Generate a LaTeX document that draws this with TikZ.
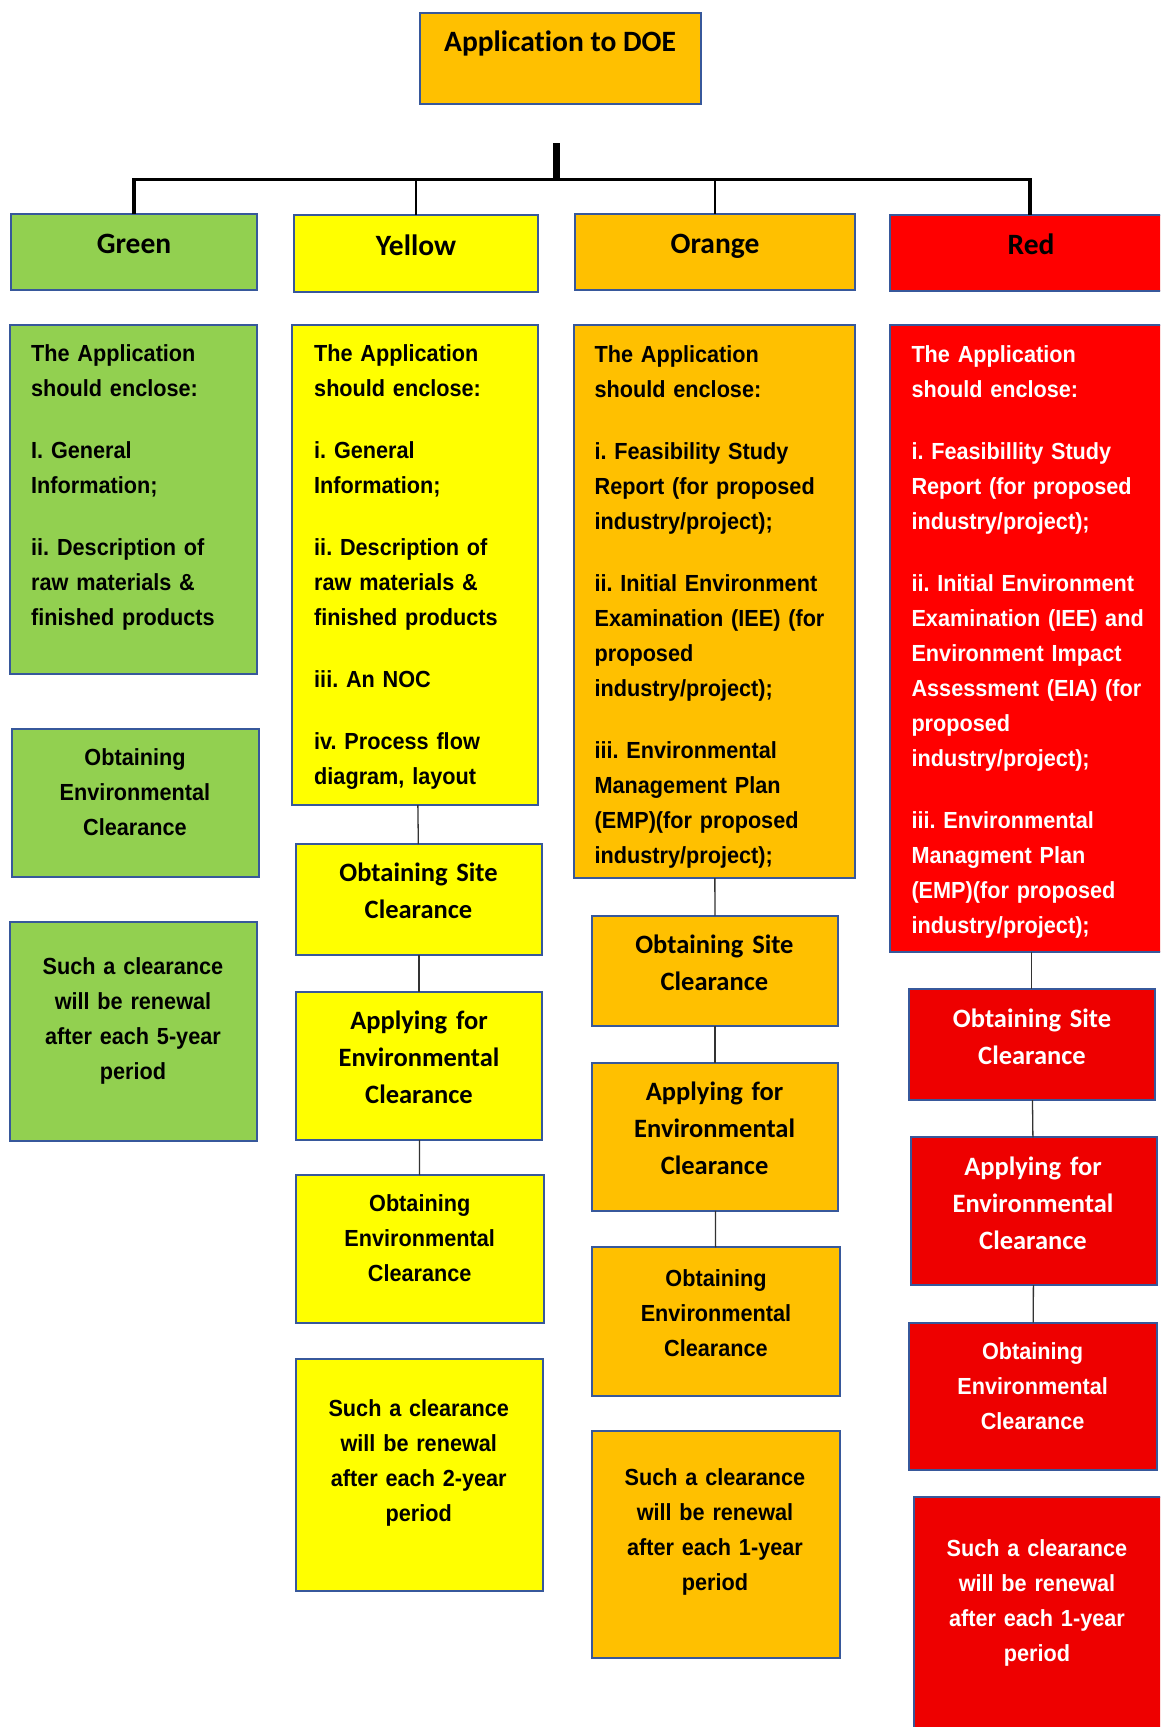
\documentclass[tikz,border=0pt]{standalone}
\usepackage{fontspec}
\newfontfamily\bodyfont{Liberation Sans}[FakeStretch=0.93]
\newfontfamily\califont{Carlito}[Ligatures=CommonOff]
\definecolor{bordc}{RGB}{55,88,155}
\definecolor{cgreen}{RGB}{146,208,80}
\definecolor{cyellow}{RGB}{255,255,0}
\definecolor{corange}{RGB}{255,192,0}
\definecolor{cred}{RGB}{255,0,0}
\definecolor{cdred}{RGB}{238,0,0}
\newcommand{\mkbox}[6]{\node[boxst, fill=#2, minimum width={(#5-#3)*1pt}, minimum height={(#6-#4)*1pt}, anchor=north west] (#1) at (#3,#4) {};}
\begin{document}
\frenchspacing
\begin{tikzpicture}[x=1pt,y=-1pt,
  boxst/.style={draw=bordc, line width=2pt, inner sep=0pt, outer sep=0pt, rectangle},
  bodytxt/.style={font=\bodyfont\bfseries\fontsize{23.3}{35}\selectfont\frenchspacing, text width=245pt, align=left, inner sep=0pt, anchor=base west},
  ctxt/.style={font=\bodyfont\bfseries\fontsize{23.3}{35}\selectfont\frenchspacing, text width=245pt, align=center, inner sep=0pt, anchor=base},
  caltxt/.style={font=\califont\bfseries\fontsize{26.5}{37}\selectfont, text width=245pt, align=center, inner sep=0pt, anchor=base},
  headtxt/.style={font=\califont\bfseries\fontsize{29.5}{36}\selectfont, inner sep=0pt, anchor=base},
  thinconn/.style={draw=black!80, line width=1.3pt},
  busconn/.style={draw=black, line width=3.5pt, line join=miter},
]
\useasboundingbox (0,0) rectangle (1160,1727);
\fill[white] (0,0) rectangle (1160,1727);
\clip (0,0) rectangle (1160,1727);

% boxes
\mkbox{doe}{corange}{420}{13}{701}{103.5}
\mkbox{g1}{cgreen}{11}{214}{257}{290}
\mkbox{y1}{cyellow}{294}{215}{538}{292}
\mkbox{o1}{corange}{575}{214}{855}{290}
\mkbox{r1}{cred}{890}{215}{1170}{291}
\mkbox{g2}{cgreen}{10}{325}{257}{674}
\mkbox{y2}{cyellow}{292}{325}{538}{805}
\mkbox{o2}{corange}{574}{325}{855}{878}
\mkbox{r2}{cred}{890}{325}{1170}{952}
\mkbox{g3}{cgreen}{12}{728.6}{259}{876.5}
\mkbox{g4}{cgreen}{10}{922}{257}{1141}
\mkbox{y3}{cyellow}{296}{844}{542}{955}
\mkbox{y4}{cyellow}{296}{992}{542}{1140}
\mkbox{y5}{cyellow}{296}{1175}{544}{1323}
\mkbox{y6}{cyellow}{296}{1359}{543}{1591}
\mkbox{o3}{corange}{592}{915.7}{838}{1025.6}
\mkbox{o4}{corange}{592}{1063}{838}{1210.8}
\mkbox{o5}{corange}{592}{1247.3}{840}{1395.5}
\mkbox{o6}{corange}{592}{1430.8}{840}{1658}
\mkbox{r3}{cdred}{908.6}{989}{1155}{1100}
\mkbox{r4}{cdred}{910.6}{1137.3}{1157}{1285}
\mkbox{r5}{cdred}{908.6}{1322.5}{1157}{1470}
\mkbox{r6}{cdred}{914}{1497}{1170}{1740}

% top connectors
\coordinate (trunk) at (556.7,143);
\coordinate (bus) at (556.7,179.5);
\draw[line width=7pt] (trunk) -- (bus);
\draw[busconn] (g1.north) -- (g1.north |- bus) -- (r1.north |- bus) -- (r1.north);
\draw[line width=1.1pt] (y1.north |- bus) -- (y1.north);
\draw[line width=1.1pt] (o1.north |- bus) -- (o1.north);

% lower connectors
\draw[thinconn] (y2) -- (y3);
\draw[thinconn] (y3) -- (y4);
\draw[thinconn] (y4) -- (y5);
\draw[thinconn] (o2) -- (o3);
\draw[thinconn] (o3) -- (o4);
\draw[thinconn] (o4) -- (o5);
\draw[thinconn] (r2.south -| r3.north) -- (r3.north);
\draw[thinconn] (r3) -- (r4);
\draw[thinconn] (r4) -- (r5);

% texts
\node[headtxt] (doet) at (560,51.7) {Application to DOE};
\node[headtxt] (g1t) at (134,253) {Green};
\node[headtxt] (y1t) at (416,255) {Yellow};
\node[headtxt] (o1t) at (715,253) {Orange};
\node[headtxt] (r1t) at (1031,254) {Red};

\node[bodytxt] (g2t) at (31,361.5) {The Application\\should enclose:\\[27pt]I. General\\Information;\\[27pt]ii. Description of\\raw materials \&\\finished products};
\node[bodytxt] (y2t) at (314,361.5) {The Application\\should enclose:\\[27pt]i. General\\Information;\\[27pt]ii. Description of\\raw materials \&\\finished products\\[27pt]iii. An NOC\\[27pt]iv. Process flow\\diagram, layout};
\node[bodytxt] (o2t) at (594.4,362) {The Application\\should enclose:\\[27pt]i. Feasibility Study\\Report (for proposed\\industry/project);\\[27pt]ii. Initial Environment\\Examination (IEE) (for\\proposed\\industry/project);\\[27pt]iii. Environmental\\Management Plan\\(EMP)(for proposed\\industry/project);};
\node[bodytxt, text=white] (r2t) at (911.3,362) {The Application\\should enclose:\\[27pt]i. Feasibillity Study\\Report (for proposed\\industry/project);\\[27pt]ii. Initial Environment\\Examination (IEE) and\\Environment Impact\\Assessment (EIA) (for\\proposed\\industry/project);\\[27pt]iii. Environmental\\Managment Plan\\(EMP)(for proposed\\industry/project);};

\node[ctxt] (g3t) at (135,765) {Obtaining\\Environmental\\Clearance};
\node[ctxt] (g4t) at (133,974.6) {Such a clearance\\will be renewal\\after each 5-year\\period};

\node[caltxt] (y3t) at (418.5,881.7) {Obtaining Site\\Clearance};
\node[caltxt] (y4t) at (419,1029) {Applying for\\Environmental\\Clearance};
\node[ctxt] (y5t) at (419.7,1211.7) {Obtaining\\Environmental\\Clearance};
\node[ctxt] (y6t) at (418.8,1416.7) {Such a clearance\\will be renewal\\after each 2-year\\period};

\node[caltxt] (o3t) at (714.4,953.8) {Obtaining Site\\Clearance};
\node[caltxt] (o4t) at (714.6,1100.8) {Applying for\\Environmental\\Clearance};
\node[ctxt] (o5t) at (716,1286) {Obtaining\\Environmental\\Clearance};
\node[ctxt] (o6t) at (715,1485.8) {Such a clearance\\will be renewal\\after each 1-year\\period};

\node[caltxt, text=white] (r3t) at (1032,1027.3) {Obtaining Site\\Clearance};
\node[caltxt, text=white] (r4t) at (1033,1175.5) {Applying for\\Environmental\\Clearance};
\node[ctxt, text=white] (r5t) at (1032.6,1359.5) {Obtaining\\Environmental\\Clearance};
\node[ctxt, text=white] (r6t) at (1037,1556.7) {Such a clearance\\will be renewal\\after each 1-year\\period};
\end{tikzpicture}
\end{document}
